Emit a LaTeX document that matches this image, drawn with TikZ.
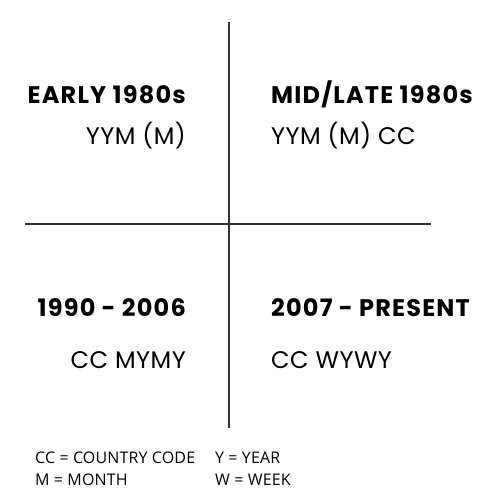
\documentclass[tikz,border=0pt]{standalone}
\usepackage{fontspec}
\setmainfont{Poppins}
\newfontfamily\headfont[LetterSpace=5]{Poppins}
\newfontfamily\codefont[LetterSpace=2]{Poppins}
\newfontfamily\legendfont[LetterSpace=1]{Open Sans}
\begin{document}
\begin{tikzpicture}[x=1pt,y=-1pt,
  divider/.style={draw=black!80, line width=1.6pt},
  head/.style={inner sep=0pt, font=\headfont\fontsize{24}{28}\selectfont\bfseries},
  code/.style={inner sep=0pt, font=\codefont\fontsize{24}{28}\selectfont},
  legend/.style={inner sep=0pt, anchor=base west, font=\legendfont\fontsize{16}{19}\selectfont}]
\useasboundingbox[fill=white] (0,0) rectangle (500,500);
\coordinate (vtop) at (229,22);
\coordinate (vbot) at (229,428);
\coordinate (hl) at (25,224);
\coordinate (hr) at (431,224);
\draw[divider] (vtop) -- (vbot);
\draw[divider] (hl) -- (hr);
\node[head, anchor=base east] (h1) at (186,104) {EARLY 1980s};
\node[code, anchor=base east] (c1) at (186,144) {YYM (M)};
\node[head, anchor=base west] (h2) at (271,104) {MID/LATE 1980s};
\node[code, anchor=base west] (c2) at (271,144) {YYM (M) CC};
\node[head, anchor=base east] (h3) at (186,316) {1990 - 2006};
\node[code, anchor=base east] (c3) at (186,368) {CC MYMY};
\node[head, anchor=base west] (h4) at (271,316) {2007 - PRESENT};
\node[code, anchor=base west] (c4) at (271,368) {CC WYWY};
\node[legend] (l1) at (35,463) {CC = COUNTRY CODE};
\node[legend] (l2) at (215,463) {Y = YEAR};
\node[legend] (l3) at (35,485) {M = MONTH};
\node[legend] (l4) at (215,485) {W = WEEK};
\end{tikzpicture}
\end{document}
